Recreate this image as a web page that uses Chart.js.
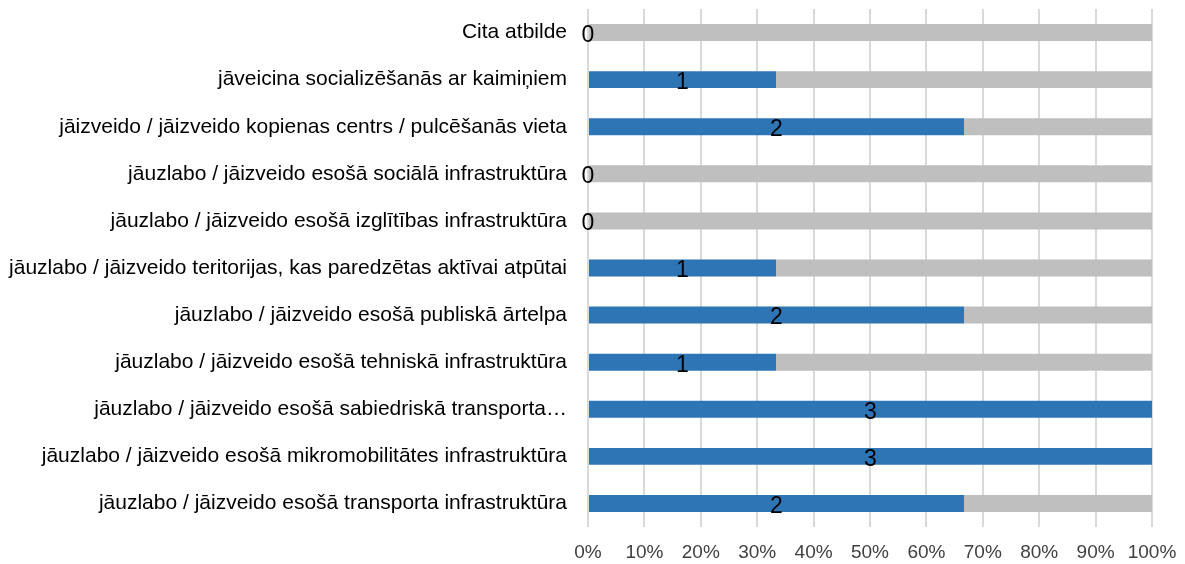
<!DOCTYPE html>
<html>
<head>
<meta charset="utf-8">
<script src="https://cdn.jsdelivr.net/npm/chart.js@4.4.1/dist/chart.umd.min.js"></script>
<style>
  html, body { margin: 0; padding: 0; background: #ffffff; }
  #wrap { width: 1185px; height: 564px; position: relative; }
</style>
</head>
<body>
<div id="wrap"><canvas id="answersChart"></canvas></div>
<script>
// Answer categories (top to bottom) and number of respondents who chose each
const categories = [
    'Cita atbilde',
    'jāveicina socializēšanās ar kaimiņiem',
    'jāizveido / jāizveido kopienas centrs / pulcēšanās vieta',
    'jāuzlabo / jāizveido esošā sociālā infrastruktūra',
    'jāuzlabo / jāizveido esošā izglītības infrastruktūra',
    'jāuzlabo / jāizveido teritorijas, kas paredzētas aktīvai atpūtai',
    'jāuzlabo / jāizveido esošā publiskā ārtelpa',
    'jāuzlabo / jāizveido esošā tehniskā infrastruktūra',
    'jāuzlabo / jāizveido esošā sabiedriskā transporta…',
    'jāuzlabo / jāizveido esošā mikromobilitātes infrastruktūra',
    'jāuzlabo / jāizveido esošā transporta infrastruktūra'
];
const answerCounts = [0, 1, 2, 0, 0, 1, 2, 1, 3, 3, 2];
const totalRespondents = 3;
const tickLabels = ['0%', '10%', '20%', '30%', '40%', '50%', '60%', '70%', '80%', '90%', '100%'];

const FONT = '"Liberation Sans", Arial, sans-serif';

// share of respondents (blue) and the rest (gray), in percent
const chosenShare = answerCounts.map(c => c / totalRespondents * 100);
const restShare = answerCounts.map(c => 100 - c / totalRespondents * 100);

// Draw the count in the middle of each blue segment
const countLabels = {
    id: 'countLabels',
    afterDatasetsDraw(chart) {
        const ctx = chart.ctx;
        const meta = chart.getDatasetMeta(0);
        ctx.save();
        ctx.font = '23px ' + FONT;
        ctx.fillStyle = '#000000';
        ctx.textAlign = 'center';
        ctx.textBaseline = 'middle';
        meta.data.forEach((bar, i) => {
            const cx = (bar.x + bar.base) / 2;
            ctx.fillText(String(answerCounts[i]), cx, bar.y + 3);
        });
        ctx.restore();
    }
};

const ctx = document.getElementById('answersChart').getContext('2d');
new Chart(ctx, {
    type: 'bar',
    data: {
        labels: categories,
        datasets: [
            {
                data: chosenShare,
                backgroundColor: '#2E75B6',
                barPercentage: 0.36,
                categoryPercentage: 1
            },
            {
                data: restShare,
                backgroundColor: '#BFBFBF',
                barPercentage: 0.36,
                categoryPercentage: 1
            }
        ]
    },
    options: {
        indexAxis: 'y',
        responsive: true,
        maintainAspectRatio: false,
        animation: false,
        layout: { padding: { top: 9, right: 33, bottom: 0, left: 0 } },
        plugins: {
            legend: { display: false },
            tooltip: { enabled: false }
        },
        scales: {
            x: {
                stacked: true,
                min: 0,
                max: 100,
                afterBuildTicks(scale) {
                    scale.ticks = tickLabels.map((t, i) => ({ value: i * 10 }));
                },
                afterFit(scale) {
                    scale.height = 37;
                    scale.paddingLeft = 0;
                    scale.paddingRight = 0;
                },
                border: { display: false },
                grid: { color: '#D9D9D9', lineWidth: 2, drawTicks: false },
                ticks: {
                    padding: 14,
                    color: '#404040',
                    font: { family: FONT, size: 19 },
                    maxRotation: 0,
                    callback: (v, i) => tickLabels[i]
                }
            },
            y: {
                stacked: true,
                afterFit(scale) {
                    scale.width = 588;
                    scale.paddingTop = 0;
                    scale.paddingBottom = 0;
                },
                border: { display: false },
                grid: { display: false },
                ticks: {
                    padding: 13,
                    color: '#000000',
                    font: { family: FONT, size: 21 },
                    autoSkip: false
                }
            }
        }
    },
    plugins: [countLabels]
});
</script>
</body>
</html>
